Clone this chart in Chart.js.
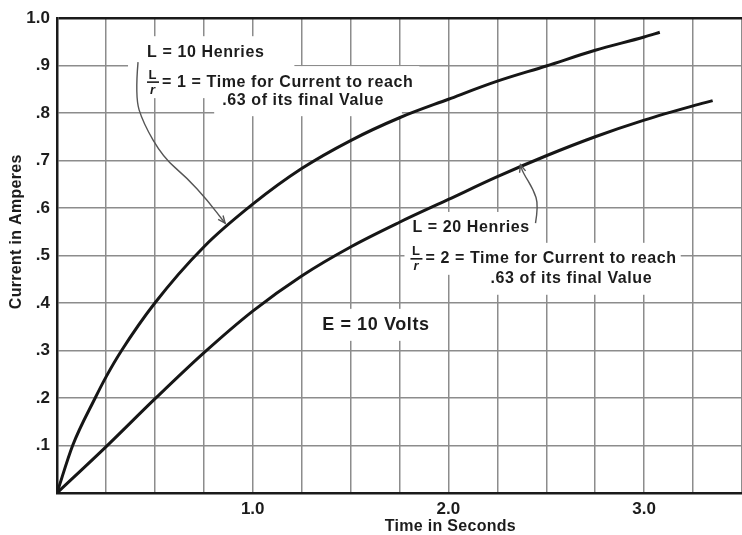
<!DOCTYPE html>
<html><head><meta charset="utf-8">
<script src="https://cdn.jsdelivr.net/npm/chart.js@4.4.1/dist/chart.umd.min.js"></script>
<style>html,body{margin:0;padding:0;background:#fff;} #wrap{width:742px;height:535px;position:relative;}</style>
</head><body><div id="wrap"><canvas id="c"></canvas></div>
<script>
// ---- data ----
const time10H    = [0, 0.08, 0.195, 0.25, 0.33, 0.5, 0.75, 1.0, 1.25, 1.5, 1.75, 2.0, 2.25, 2.5, 2.75, 3.0, 3.08];
const current10H = [0, 0.10, 0.20, 0.244, 0.30, 0.40, 0.518, 0.608, 0.683, 0.742, 0.79, 0.829, 0.867, 0.899, 0.932, 0.96, 0.97];
const time20H    = [0, 0.25, 0.5, 0.75, 1.0, 1.25, 1.5, 1.75, 2.0, 2.25, 2.5, 2.75, 3.0, 3.25, 3.35];
const current20H = [0, 0.097, 0.198, 0.295, 0.383, 0.457, 0.518, 0.57, 0.618, 0.666, 0.71, 0.75, 0.785, 0.815, 0.826];
const xTickValues = [1, 2, 3];
const xTickLabels = ['1.0', '2.0', '3.0'];
const yTickValues = [0.1, 0.2, 0.3, 0.4, 0.5, 0.6, 0.7, 0.8, 0.9, 1.0];
const yTickLabels = ['.1', '.2', '.3', '.4', '.5', '.6', '.7', '.8', '.9', '1.0'];
const xTitle = 'Time in Seconds';
const yTitle = 'Current in Amperes';

// ---- annotations (positions in data units) ----
const notes = [
  {t:0.46,  v:0.928, text:'L = 10 Henries', pad:[19, 30]},
  {t:0.46,  v:0.865, frac:true, text:'= 1 = Time for Current to reach', pad:[19, 6]},
  {t:0.844, v:0.827, text:'.63 of its final Value', pad:[8, 18]},
  {t:1.816, v:0.558, text:'L = 20 Henries', pad:[6, 6]},
  {t:1.806, v:0.493, frac:true, text:'= 2 = Time for Current to reach', pad:[6, 4]},
  {t:2.215, v:0.451, text:'.63 of its final Value', pad:[6, 6]},
  {t:1.355, v:0.354, text:'E = 10 Volts', pad:[12, 12], size:18}
];
const arrows = [
  [[0.414,0.907],[0.399,0.834],[0.440,0.779],[0.542,0.707],[0.665,0.663],[0.767,0.617],[0.859,0.568]],
  [[2.445,0.568],[2.460,0.606],[2.435,0.638],[2.379,0.676],[2.368,0.691]]
];
const xTitleAt = 2.01, yTitleAt = 0.55;

const FONT = "'Liberation Sans', Arial, sans-serif";
const INK = '#1c1c1c';

function noteFont(n){ return 'bold ' + ((n && n.size) || 16) + 'px ' + FONT; }

const annot = {
  id: 'annot',
  beforeDatasetsDraw(chart){
    const {ctx, scales:{x, y}} = chart;
    ctx.save();
    ctx.letterSpacing = '0.6px';
    ctx.fillStyle = '#fff';
    notes.forEach(n => {
      ctx.font = noteFont(n);
      const px = x.getPixelForValue(n.t), py = y.getPixelForValue(n.v);
      const w = ctx.measureText(n.text).width + (n.frac ? 15 : 0);
      ctx.fillRect(px - n.pad[0], py - 16, w + n.pad[0] + n.pad[1], 32);
    });
    ctx.restore();
  },
  afterDatasetsDraw(chart){
    const {ctx, scales:{x, y}} = chart;
    ctx.save();
    ctx.fillStyle = INK;
    ctx.textBaseline = 'middle';
    ctx.textAlign = 'left';
    notes.forEach(n => {
      let px = x.getPixelForValue(n.t);
      const py = y.getPixelForValue(n.v);
      ctx.letterSpacing = '0px';
      if (n.frac) {
        ctx.font = 'bold 13px ' + FONT;
        ctx.textAlign = 'center';
        ctx.fillText('L', px + 5.5, py - 7);
        ctx.font = 'italic bold 13px ' + FONT;
        ctx.fillText('r', px + 5.5, py + 8);
        ctx.strokeStyle = INK; ctx.lineWidth = 1.6;
        ctx.beginPath(); ctx.moveTo(px, py); ctx.lineTo(px + 12, py); ctx.stroke();
        ctx.textAlign = 'left';
        px += 15;
      }
      ctx.letterSpacing = '0.6px';
      ctx.font = noteFont(n);
      ctx.fillText(n.text, px, py);
    });
    ctx.letterSpacing = '0px';
    // callout arrows
    ctx.strokeStyle = '#555'; ctx.lineWidth = 1.4;
    arrows.forEach(a => {
      const p = a.map(q => [x.getPixelForValue(q[0]), y.getPixelForValue(q[1])]);
      ctx.beginPath();
      ctx.moveTo(p[0][0], p[0][1]);
      for (let i = 1; i < p.length - 1; i++) {
        const mx = (p[i][0] + p[i+1][0]) / 2, my = (p[i][1] + p[i+1][1]) / 2;
        ctx.quadraticCurveTo(p[i][0], p[i][1], mx, my);
      }
      const L = p[p.length-1], P = p[p.length-2];
      ctx.lineTo(L[0], L[1]);
      ctx.stroke();
      const ang = Math.atan2(L[1]-P[1], L[0]-P[0]);
      ctx.beginPath();
      ctx.moveTo(L[0] - 8*Math.cos(ang-0.4), L[1] - 8*Math.sin(ang-0.4));
      ctx.lineTo(L[0], L[1]);
      ctx.lineTo(L[0] - 8*Math.cos(ang+0.4), L[1] - 8*Math.sin(ang+0.4));
      ctx.stroke();
    });
    ctx.restore();
  },
  afterDraw(chart){
    const {ctx, scales:{x, y}} = chart;
    ctx.save();
    ctx.fillStyle = INK;
    ctx.font = 'bold 16px ' + FONT;
    ctx.letterSpacing = '0.3px';
    ctx.textAlign = 'center';
    ctx.textBaseline = 'middle';
    ctx.fillText(xTitle, x.getPixelForValue(xTitleAt), 527);
    ctx.translate(17, y.getPixelForValue(yTitleAt));
    ctx.rotate(-Math.PI/2);
    ctx.fillText(yTitle, 0, 0);
    ctx.restore();
  }
};

function labelFor(values, labels, v){
  const i = values.findIndex(t => Math.abs(t - v) < 1e-6);
  return i >= 0 ? labels[i] : '';
}

const lineStyle = {borderColor: '#161616', borderWidth: 3, pointRadius: 0, fill: false, cubicInterpolationMode: 'monotone'};

new Chart(document.getElementById('c'), {
  type: 'line',
  data: {
    datasets: [
      Object.assign({label: 'L = 10 Henries', data: time10H.map((t, i) => ({x: t, y: current10H[i]}))}, lineStyle),
      Object.assign({label: 'L = 20 Henries', data: time20H.map((t, i) => ({x: t, y: current20H[i]}))}, lineStyle)
    ]
  },
  options: {
    responsive: true,
    maintainAspectRatio: false,
    animation: false,
    layout: {padding: {top: 18, right: 0, left: 0, bottom: 0}},
    plugins: {legend: {display: false}, tooltip: {enabled: false}},
    scales: {
      x: {
        type: 'linear', min: 0, max: 3.5,
        afterFit(s){ s.height = 42; s.paddingRight = 0; s.paddingLeft = 0; },
        ticks: {stepSize: 0.25, autoSkip: false, maxRotation: 0, padding: 6, color: INK,
                font: {family: FONT, size: 17, weight: 'bold'},
                callback: v => labelFor(xTickValues, xTickLabels, v)},
        grid: {color: '#8c8c8c', lineWidth: 1.5, drawTicks: false},
        border: {color: '#1a1a1a', width: 2.5}
      },
      y: {
        type: 'linear', min: 0, max: 1,
        afterFit(s){ s.width = 57; s.paddingTop = 0; s.paddingBottom = 0; },
        ticks: {stepSize: 0.1, autoSkip: false, padding: 7, color: INK,
                font: {family: FONT, size: 17, weight: 'bold'},
                callback: v => labelFor(yTickValues, yTickLabels, v)},
        grid: {drawTicks: false,
               color: c => (c.tick && Math.abs(c.tick.value - 1) < 1e-6) ? '#1a1a1a' : '#8c8c8c',
               lineWidth: c => (c.tick && Math.abs(c.tick.value - 1) < 1e-6) ? 2.5 : 1.5},
        border: {color: '#1a1a1a', width: 2.5}
      }
    }
  },
  plugins: [annot]
});
</script>
</body></html>
